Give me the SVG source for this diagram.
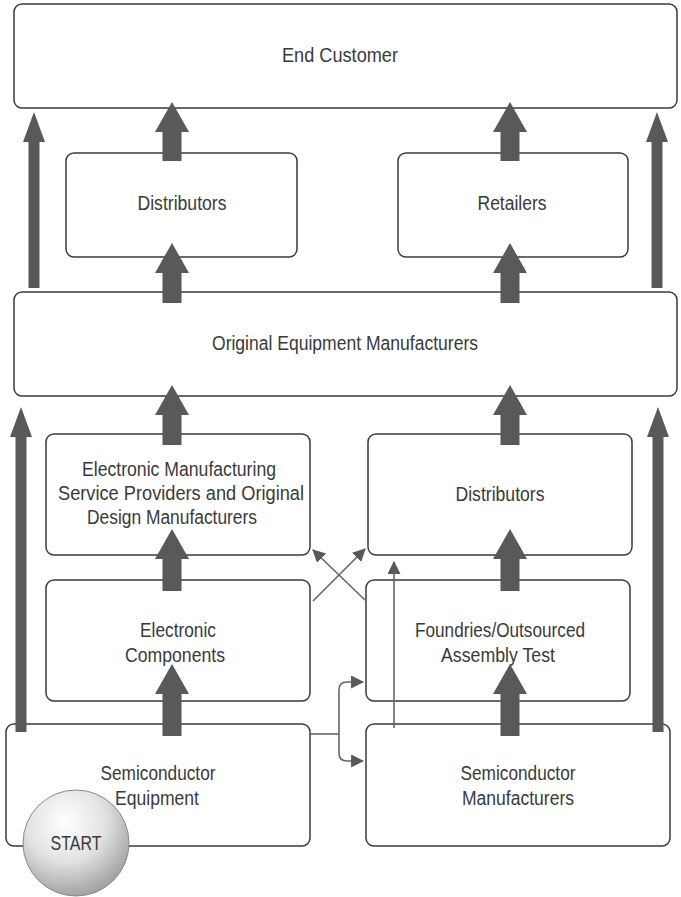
<svg xmlns="http://www.w3.org/2000/svg" width="681" height="897" viewBox="0 0 681 897">
<defs>
<style>
.box{fill:#fff;stroke:#3a3a3a;stroke-width:1.5}
.t{font-family:"Liberation Sans",Arial,sans-serif;font-size:20px;fill:#3a3a3a;text-anchor:middle}
.thick{fill:#58595b;stroke:none}
.thin{fill:none;stroke:#666;stroke-width:1.6}
</style>
<marker id="ah" viewBox="0 0 12 12" refX="11" refY="6" markerWidth="13" markerHeight="13" markerUnits="userSpaceOnUse" orient="auto">
<path d="M0,0 L12,6 L0,12 Z" fill="#58595b"/>
</marker>
<radialGradient id="ball" cx="0.4" cy="0.3" r="0.75">
<stop offset="0" stop-color="#ffffff"/>
<stop offset="0.5" stop-color="#e2e2e2"/>
<stop offset="1" stop-color="#9a9a9a"/>
</radialGradient>
</defs>

<g id="end-customer"><rect class="box" x="14" y="4" width="663" height="104" rx="8"/><text class="t" x="340" y="62" textLength="116" lengthAdjust="spacingAndGlyphs">End Customer</text></g>
<g id="distributors-top"><rect class="box" x="66" y="153" width="231" height="104" rx="8"/><text class="t" x="182" y="210" textLength="89" lengthAdjust="spacingAndGlyphs">Distributors</text></g>
<g id="retailers"><rect class="box" x="398" y="153" width="230" height="104" rx="8"/><text class="t" x="512" y="210" textLength="69" lengthAdjust="spacingAndGlyphs">Retailers</text></g>
<g id="oem"><rect class="box" x="14" y="292" width="663" height="104" rx="8"/><text class="t" x="345" y="350" textLength="266" lengthAdjust="spacingAndGlyphs">Original Equipment Manufacturers</text></g>
<g id="ems-odm"><rect class="box" x="46" y="434" width="264" height="121" rx="8"/>
<text class="t" x="179" y="476" textLength="194" lengthAdjust="spacingAndGlyphs">Electronic Manufacturing</text>
<text class="t" x="181" y="500" textLength="246" lengthAdjust="spacingAndGlyphs">Service Providers and Original</text>
<text class="t" x="172" y="524" textLength="170" lengthAdjust="spacingAndGlyphs">Design Manufacturers</text></g>
<g id="distributors-mid"><rect class="box" x="368" y="434" width="264" height="121" rx="8"/><text class="t" x="500" y="501" textLength="89" lengthAdjust="spacingAndGlyphs">Distributors</text></g>
<g id="electronic-components"><rect class="box" x="46" y="580" width="264" height="121" rx="8"/>
<text class="t" x="178" y="637" textLength="76" lengthAdjust="spacingAndGlyphs">Electronic</text>
<text class="t" x="175" y="662" textLength="100" lengthAdjust="spacingAndGlyphs">Components</text></g>
<g id="foundries-osat"><rect class="box" x="366" y="580" width="264" height="121" rx="8"/>
<text class="t" x="500" y="637" textLength="170" lengthAdjust="spacingAndGlyphs">Foundries/Outsourced</text>
<text class="t" x="498" y="662" textLength="114" lengthAdjust="spacingAndGlyphs">Assembly Test</text></g>
<g id="semiconductor-equipment"><rect class="box" x="6" y="724" width="304" height="122" rx="8"/>
<text class="t" x="158" y="780" textLength="115" lengthAdjust="spacingAndGlyphs">Semiconductor</text>
<text class="t" x="157" y="805" textLength="84" lengthAdjust="spacingAndGlyphs">Equipment</text></g>
<g id="semiconductor-manufacturers"><rect class="box" x="366" y="724" width="304" height="122" rx="8"/>
<text class="t" x="518" y="780" textLength="115" lengthAdjust="spacingAndGlyphs">Semiconductor</text>
<text class="t" x="518" y="805" textLength="112" lengthAdjust="spacingAndGlyphs">Manufacturers</text></g>

<g id="connectors">
<path class="thick" d="M162.5,161 V132 H155 L172,102 L189,132 H181.5 V161 Z"/>
<path class="thick" d="M500.5,161 V132 H493 L510,102 L527,132 H519.5 V161 Z"/>
<path class="thick" d="M162.5,303 V273 H155 L172,243 L189,273 H181.5 V303 Z"/>
<path class="thick" d="M500.5,303 V273 H493 L510,243 L527,273 H519.5 V303 Z"/>
<path class="thick" d="M162.5,445 V415 H155 L172,385 L189,415 H181.5 V445 Z"/>
<path class="thick" d="M500.5,445 V415 H493 L510,385 L527,415 H519.5 V445 Z"/>
<path class="thick" d="M162.5,591 V559 H155 L172,529 L189,559 H181.5 V591 Z"/>
<path class="thick" d="M500.5,591 V559 H493 L510,529 L527,559 H519.5 V591 Z"/>
<path class="thick" d="M162.5,736 V694 H155 L172,664 L189,694 H181.5 V736 Z"/>
<path class="thick" d="M500.5,736 V694 H493 L510,664 L527,694 H519.5 V736 Z"/>
<path class="thick" d="M28.5,288 V142 H23 L34,112 L45,142 H39.5 V288 Z"/>
<path class="thick" d="M651.5,288 V142 H646 L657,112 L668,142 H662.5 V288 Z"/>
<path class="thick" d="M15.5,732 V437 H10 L21,407 L32,437 H26.5 V732 Z"/>
<path class="thick" d="M652.5,732 V437 H647 L658,407 L669,437 H663.5 V732 Z"/>
<line class="thin" x1="313" y1="601" x2="365" y2="549" marker-end="url(#ah)"/>
<line class="thin" x1="365" y1="600" x2="313" y2="550" marker-end="url(#ah)"/>
<line class="thin" x1="394" y1="728" x2="394" y2="562" marker-end="url(#ah)"/>
<path class="thin" d="M310,734 H339"/>
<path class="thin" d="M339,734 V690 Q339,682 347,682 H363" marker-end="url(#ah)"/>
<path class="thin" d="M339,734 V753 Q339,761 347,761 H363" marker-end="url(#ah)"/>
</g>

<g id="start"><circle cx="76" cy="843" r="53" fill="url(#ball)" stroke="#8a8a8a" stroke-width="1"/>
<text class="t" x="76" y="850" font-size="22" textLength="51" lengthAdjust="spacingAndGlyphs">START</text></g>
</svg>
